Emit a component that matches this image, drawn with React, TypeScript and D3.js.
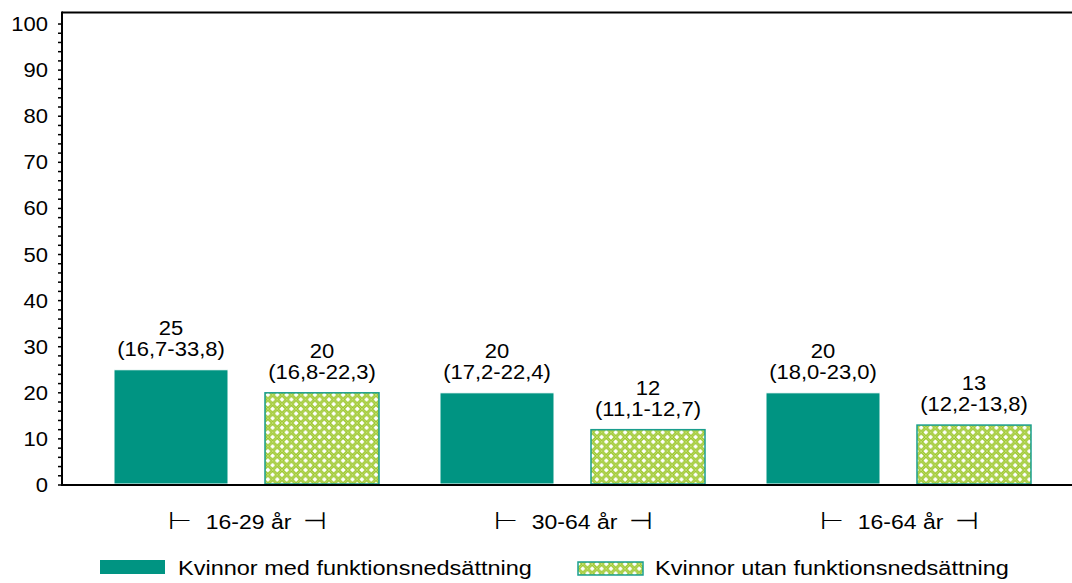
import React from "react";
import * as d3 from "d3";

// values
const categories = ["16-29 år", "30-64 år", "16-64 år"];
const seriesNames = [
  "Kvinnor med funktionsnedsättning",
  "Kvinnor utan funktionsnedsättning",
];
const withValues = [25, 20, 20];
const withCI = ["(16,7-33,8)", "(17,2-22,4)", "(18,0-23,0)"];
const withoutValues = [20, 12, 13];
const withoutCI = ["(16,8-22,3)", "(11,1-12,7)", "(12,2-13,8)"];
const yTicks = [0, 10, 20, 30, 40, 50, 60, 70, 80, 90, 100];

const W = 1072;
const H = 583;
const KY = 0.88; // the reference text is a bit squashed vertically
const FONT = "'Liberation Sans', Arial, sans-serif";
const TEAL = "#009482";
const GREEN = "#9ac62a";
const P = 9.4; // hatch period

const SText = ({ x, y, size, anchor = "middle", children }: any) => (
  <text
    transform={`translate(${x},${y}) scale(1,${KY})`}
    fontSize={size}
    textAnchor={anchor}
    fill="#000"
  >
    {children}
  </text>
);

const App: React.FC = () => {
  const left = 62;
  const top = 12.5;
  const bottom = 485;

  const y = d3.scaleLinear().domain([0, 102.5]).range([bottom, top]);
  const x0 = d3.scaleBand<string>().domain(categories).range([83.5, 1061.5]);
  const x1 = d3
    .scaleBand<number>()
    .domain([0, 1])
    .range([0, x0.bandwidth()])
    .paddingInner(0.245)
    .paddingOuter(0.202);

  const minor = d3.range(0, 101, 2);
  const series = [
    { values: withValues, ci: withCI },
    { values: withoutValues, ci: withoutCI },
  ];
  const hatch = `M0,0L${P},${P}M${P},0L0,${P}`;

  return (
    <svg
      width={W}
      height={H}
      style={{ position: "absolute", left: 0, top: 0, display: "block", fontFamily: FONT }}
    >
      <defs>
        <pattern id="hatch" width={P} height={P} patternUnits="userSpaceOnUse">
          <rect width={P} height={P} fill="#fff" />
          <path d={hatch} stroke={GREEN} strokeWidth={2.9} strokeLinecap="square" />
          <path d={hatch} stroke="#d0e68a" strokeWidth={0.7} />
        </pattern>
      </defs>

      <rect width={W} height={H} fill="#fff" />

      {/* bars */}
      {categories.map((c, i) => {
        const gx = x0(c)!;
        const cx = gx + x0.bandwidth() / 2;
        return (
          <g key={c}>
            {series.map((s, j) => {
              const bx = gx + x1(j)!;
              const bw = x1.bandwidth();
              const v = s.values[i];
              const ty = y(v);
              return (
                <g key={j}>
                  {j === 0 ? (
                    <rect
                      x={bx}
                      y={ty}
                      width={bw}
                      height={bottom - 1 - ty}
                      fill={TEAL}
                      stroke="#fff"
                      strokeWidth={1}
                    />
                  ) : (
                    <rect
                      x={bx}
                      y={ty}
                      width={bw}
                      height={bottom - 1 - ty}
                      fill="url(#hatch)"
                      stroke="#1a9e8e"
                      strokeWidth={1.5}
                    />
                  )}
                  <SText x={bx + bw / 2} y={ty - 35} size={22}>
                    {v}
                  </SText>
                  <SText x={bx + bw / 2} y={ty - 14} size={22}>
                    {s.ci[i]}
                  </SText>
                </g>
              );
            })}
            <SText x={cx - 67} y={529} size={27}>
              ⊢
            </SText>
            <SText x={cx + 2} y={529} size={23}>
              {c}
            </SText>
            <SText x={cx + 68} y={529} size={27}>
              ⊣
            </SText>
          </g>
        );
      })}

      {/* frame and axes */}
      <line x1={left} x2={W} y1={top} y2={top} stroke="#000" strokeWidth={2} />
      <line x1={left} x2={W} y1={bottom} y2={bottom} stroke="#000" strokeWidth={2} />
      <line x1={left} x2={left} y1={top - 1} y2={bottom + 1} stroke="#000" strokeWidth={2} />
      {minor.map((t) => (
        <line key={t} x1={left - 4} x2={left} y1={y(t)} y2={y(t)} stroke="#000" strokeWidth={1.5} />
      ))}
      {yTicks.map((t) => (
        <SText key={t} x={48} y={y(t) + 7} size={22} anchor="end">
          {t}
        </SText>
      ))}

      {/* legend */}
      <rect x={100} y={560} width={65} height={14} fill={TEAL} />
      <SText x={178} y={575} size={23.5} anchor="start">
        {seriesNames[0]}
      </SText>
      <rect x={578} y={562} width={65} height={13} fill="url(#hatch)" stroke="#1a9e8e" strokeWidth={1.5} />
      <SText x={655} y={575} size={23.5} anchor="start">
        {seriesNames[1]}
      </SText>
    </svg>
  );
};

export default App;
